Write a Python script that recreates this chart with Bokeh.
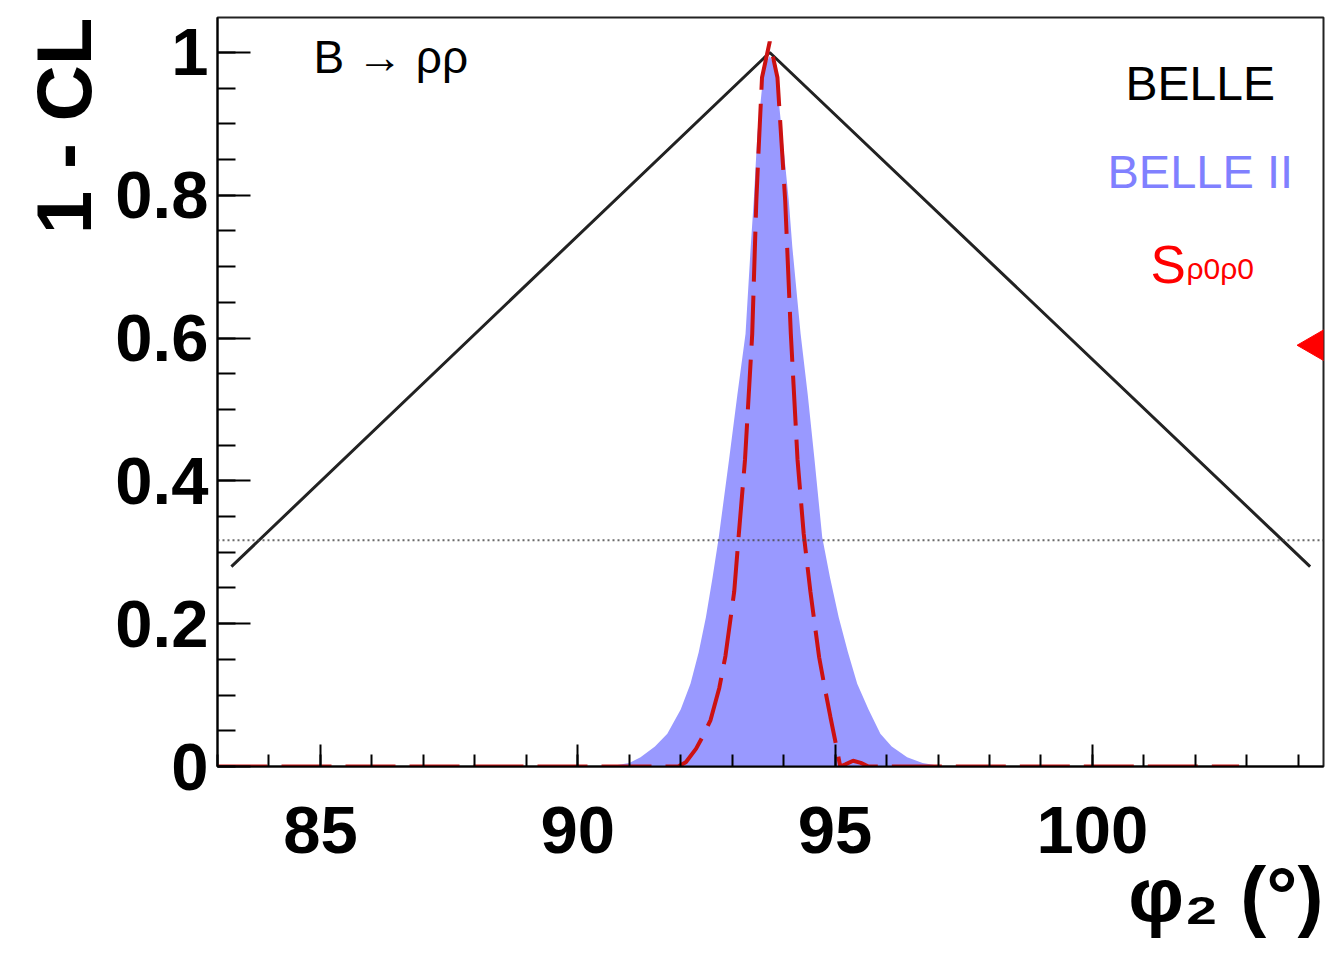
import math
from bokeh.plotting import figure
from bokeh.models import Range1d, FixedTicker, Label, Span, Title
from bokeh.embed import file_html
from bokeh.resources import INLINE

# ---------------- data ----------------
# BELLE (black triangle)
belle_x = [83.27, 93.73, 104.23]
belle_y = [0.28, 1.0, 0.28]

# BELLE II (blue filled)
belle2_x = [90.6, 91.0, 91.22, 91.5, 91.74, 92.0, 92.19, 92.35, 92.49, 92.62, 92.74,
            92.94, 93.10, 93.26, 93.36, 93.42, 93.49, 93.62, 93.73,
            93.84, 93.97, 94.10, 94.17, 94.33, 94.47, 94.60, 94.75, 94.90, 95.07,
            95.25, 95.43, 95.65, 95.88, 96.10, 96.40, 96.7, 97.1]
belle2_y = [0.0, 0.005, 0.013, 0.028, 0.046, 0.08, 0.116, 0.16, 0.209, 0.265, 0.321,
            0.43, 0.52, 0.606, 0.727, 0.793, 0.886, 0.979, 0.995,
            0.979, 0.886, 0.793, 0.727, 0.606, 0.52, 0.43, 0.321, 0.265, 0.209,
            0.16, 0.116, 0.08, 0.046, 0.028, 0.013, 0.005, 0.0]

# S_rho0rho0 (red dashed)
s00_x = [83.0, 91.95, 92.1, 92.3, 92.45, 92.58, 92.75, 92.87, 93.04, 93.13, 93.25,
         93.39, 93.47, 93.52, 93.58, 93.73, 93.88, 93.96, 94.03, 94.14, 94.27,
         94.39, 94.52, 94.69, 94.80, 94.91, 95.02, 95.10, 95.2, 95.35, 95.5, 95.65, 102.85]
s00_y = [0.0, 0.0, 0.006, 0.025, 0.045, 0.065, 0.11, 0.155, 0.245, 0.326, 0.43,
         0.606, 0.793, 0.873, 0.965, 1.015, 0.965, 0.873, 0.793, 0.606, 0.43,
         0.326, 0.245, 0.153, 0.11, 0.069, 0.03, 0.0, 0.003, 0.008, 0.005, 0.0, 0.0]

cl_level = 0.317

x_ticks = [85, 90, 95, 100]
x_minor = list(range(83, 105))
y_ticks = [0.0, 0.2, 0.4, 0.6, 0.8, 1.0]
y_tick_labels = ["0", "0.2", "0.4", "0.6", "0.8", "1"]
y_minor = [round(0.05 * i, 2) for i in range(0, 21)]

arrow_x = [104.65]
arrow_y = [0.59]

FONT = "Liberation Sans"

p = figure(width=1325, height=968, output_backend="svg", toolbar_location=None,
           x_range=Range1d(83.0, 104.49), y_range=Range1d(0.0, 1.049),
           min_border_left=217, min_border_right=2, min_border_top=17, min_border_bottom=202)
p.xgrid.visible = False
p.ygrid.visible = False
p.background_fill_color = "white"
p.border_fill_color = "white"
p.outline_line_color = "#222222"
p.outline_line_width = 2

# axes
xa = p.xaxis[0]
xa.ticker = FixedTicker(ticks=x_ticks, minor_ticks=x_minor)
xa.major_tick_in = 22
xa.major_tick_out = 0
xa.minor_tick_in = 12
xa.minor_tick_out = 0
xa.axis_line_width = 2
xa.major_tick_line_width = 2
xa.minor_tick_line_width = 2
xa.major_label_text_font = FONT
xa.major_label_text_font_style = "bold"
xa.major_label_text_font_size = "67px"
xa.major_label_text_color = "black"
xa.major_label_standoff = 40

ya = p.yaxis[0]
ya.ticker = FixedTicker(ticks=y_ticks, minor_ticks=y_minor)
ya.major_label_overrides = dict(zip(y_ticks, y_tick_labels))
ya.major_tick_in = 33
ya.major_tick_out = 0
ya.minor_tick_in = 18
ya.minor_tick_out = 0
ya.axis_line_width = 2
ya.major_tick_line_width = 2
ya.minor_tick_line_width = 2
ya.major_label_text_font = FONT
ya.major_label_text_font_style = "bold"
ya.major_label_text_font_size = "67px"
ya.major_label_text_color = "black"
ya.major_label_standoff = 9

# glyphs
p.line(belle_x, belle_y, line_color="#222222", line_width=3)
p.varea(x=belle2_x, y1=[0.0] * len(belle2_x), y2=belle2_y, fill_color="#9999ff")
p.add_layout(Span(location=cl_level, dimension="width", line_color="#444444",
                  line_width=2, line_dash="2 3", line_alpha=0.8))
p.line(s00_x, s00_y, line_color="#cc1111", line_width=4, line_dash="50 14")
p.scatter(arrow_x, arrow_y, marker="triangle", size=60, angle=math.pi / 2,
          fill_color="red", line_color="red")

# texts inside the frame
def lab(text, x, y, size, color="black", style="normal", align="left"):
    p.add_layout(Label(text=text, x=x, y=y, x_units="screen", y_units="screen",
                       text_font=FONT, text_font_size=size, text_color=color,
                       text_font_style=style, text_align=align,
                       text_baseline="alphabetic"))

lab("B \u2192 \u03c1\u03c1", 96, 710, "46px")
lab("BELLE", 908, 683, "48px")
lab("BELLE II", 890, 595, "47px", color="#8080ff")
lab("S", 933, 502, "53px", color="#ff0000")
lab("\u03c10\u03c10", 969, 498, "30px", color="#ff0000")

# axis titles (side panels, not clipped)
def ttl(text, side, size, style, standoff, offset):
    p.add_layout(Title(text=text, align="right", vertical_align="bottom",
                       text_font=FONT, text_font_size=size, text_font_style=style,
                       text_color="black", standoff=standoff, offset=offset), side)

ttl("1 - CL", "left", "78px", "bold", 10, 0)
ttl("\u03c6\u2082 (\u00b0)", "below", "78px", "bold", -13, 0)

open("out.html", "w").write(file_html(p, INLINE))
